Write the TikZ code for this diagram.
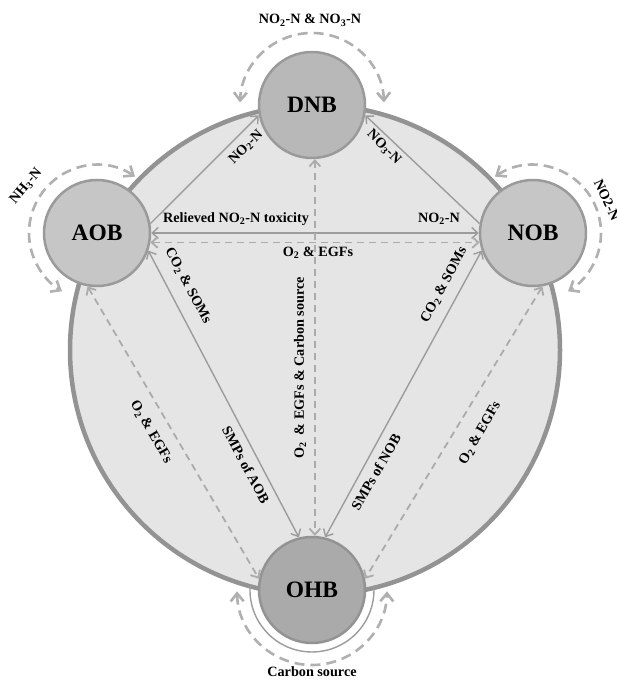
\documentclass[tikz,border=0pt]{standalone}
\usepackage{fontspec}
\setmainfont{Liberation Serif}
\usetikzlibrary{arrows.meta}
\definecolor{ringfill}{HTML}{E5E5E5}
\definecolor{ringedge}{HTML}{939393}
\definecolor{nodeedge}{HTML}{9A9A9A}
\definecolor{aobfill}{HTML}{C6C6C6}
\definecolor{dnbfill}{HTML}{B8B8B8}
\definecolor{ohbfill}{HTML}{AAAAAA}
\definecolor{linkgray}{HTML}{9C9C9C}
\definecolor{dashgray}{HTML}{ABABAB}
\definecolor{loopgray}{HTML}{B0B0B0}
\begin{document}
\begin{tikzpicture}[x=1pt,y=1pt,
  >={Straight Barb[length=6pt,width=11pt]},
  lab/.style={font=\bfseries\fontsize{14.2}{16}\selectfont, inner sep=0pt},
  bact/.style={circle, minimum size=106pt, inner sep=0pt, draw=nodeedge, line width=2.5pt,
    font=\bfseries\fontsize{23.5}{25}\selectfont},
  link/.style={draw=linkgray, line width=1.4pt},
  dlink/.style={draw=dashgray, line width=1.8pt, dash pattern=on 7pt off 5pt},
  selfloop/.style={draw=loopgray, line width=2.6pt, dash pattern=on 10pt off 6pt,
    >={Straight Barb[length=8pt,width=13pt]}}
]
\useasboundingbox[fill=white] (0,0) rectangle (617,680);
\draw[fill=ringfill, draw=ringedge, line width=4.5pt] (315,330) circle[radius=245];

\node[bact, fill=dnbfill] (DNB) at (312,575) {DNB};
\node[bact, fill=aobfill] (AOB) at (97,447) {AOB};
\node[bact, fill=aobfill] (NOB) at (533,447) {NOB};
\node[bact, fill=ohbfill, draw=ringedge] (OHB) at (312,90) {OHB};

% connectors
\draw[link,->] (AOB.10) -- (DNB.191);
\draw[link,->] (NOB.170) -- (DNB.-11);
\draw[link,<->] (AOB.east) -- (NOB.west);
\draw[dlink,<->] (AOB.-10) -- (NOB.190);
\draw[dlink,<->] (DNB.-87) -- (OHB.87);
\draw[link,<->] (AOB.-19) -- (OHB.104);
\draw[link,<->] (NOB.199) -- (OHB.76);
\draw[dlink,<->] (AOB.-100) -- (OHB.168);
\draw[dlink,<->] (NOB.-80) -- (OHB.12);

% self loops
\draw[selfloop,<->] ([shift={(2:72)}]DNB.center) arc[start angle=2,end angle=178,radius=72];
\draw[selfloop,<->] ([shift={(56:68)}]AOB.center) arc[start angle=56,end angle=239,radius=68];
\draw[selfloop,<->] ([shift={(124:68)}]NOB.center) arc[start angle=124,end angle=-59,radius=68];
\draw[selfloop,<->] ([shift={(181:75)}]OHB.center) arc[start angle=181,end angle=359,radius=75];
\draw[link] ([shift={(176:62)}]OHB.center) arc[start angle=176,end angle=364,radius=62];

% labels
\node[lab, anchor=base] (lDN) at (310,656) {NO\textsubscript{2}-N \& NO\textsubscript{3}-N};
\node[lab, rotate=50] (lNH) at (26,494) {NH\textsubscript{3}-N};
\node[lab, rotate=-65] (lNOr) at (607,480) {NO2-N};
\node[lab] (lRel) at (236,461) {Relieved NO\textsubscript{2}-N toxicity};
\node[lab] (lNOh) at (439,461) {NO\textsubscript{2}-N};
\node[lab] (lOEh) at (318,427) {O\textsubscript{2} \& EGFs};
\node[lab, rotate=45] (lNO2d) at (246,533) {NO\textsubscript{2}-N};
\node[lab, rotate=-45] (lNO3d) at (384,533) {NO\textsubscript{3}-N};
\node[lab, rotate=-62] (lCOl) at (188,394) {CO\textsubscript{2} \& SOMs};
\node[lab, rotate=-62] (lSMa) at (246,215) {SMPs of AOB};
\node[lab, rotate=62] (lCOr) at (444,395) {CO\textsubscript{2} \& SOMs};
\node[lab, rotate=60] (lSMn) at (376,208) {SMPs of NOB};
\node[lab, rotate=90] (lOEC) at (300,312) {O\textsubscript{2}\ \ \& EGFs \& Carbon source};
\node[lab, rotate=-60] (lOEl) at (151,248) {O\textsubscript{2} \& EGFs};
\node[lab, rotate=60] (lOEr) at (480,247) {O\textsubscript{2} \& EGFs};
\node[lab, anchor=base] (lCS) at (312,3) {Carbon source};
\end{tikzpicture}
\end{document}
